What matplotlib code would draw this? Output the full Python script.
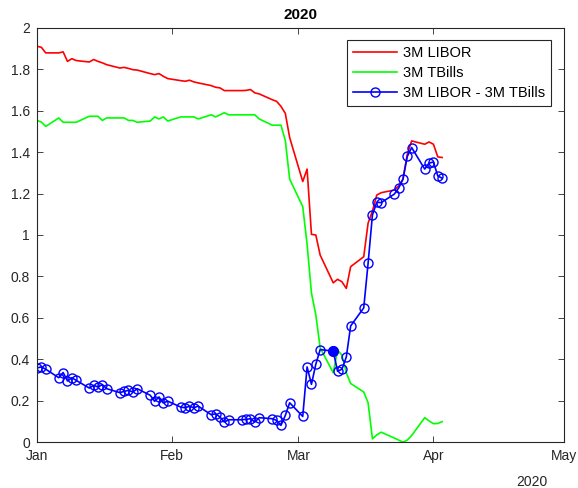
import numpy as np
import pandas as pd
import matplotlib
matplotlib.use('Agg')
import matplotlib.pyplot as plt

plt.rcParams['font.family'] = ['Liberation Sans', 'DejaVu Sans']

# business days, 1 Jan - 3 Apr 2020
dates = pd.bdate_range('2020-01-01', '2020-04-03')

libor = [1.911, 1.906, 1.879, 1.879, 1.884, 1.838, 1.851, 1.842, 1.835, 1.847,
         1.838, 1.831, 1.822, 1.806, 1.809, 1.804, 1.798, 1.796, 1.779, 1.774,
         1.779, 1.766, 1.755,
         1.745, 1.742, 1.747, 1.739, 1.734, 1.721, 1.713, 1.710, 1.697, 1.697,
         1.697, 1.698, 1.702, 1.686, 1.681, 1.653, 1.645, 1.621, 1.587, 1.470,
         1.258, 1.318, 1.003, 1.000, 0.903, 0.769, 0.786, 0.774, 0.742, 0.847,
         0.895, 1.057, 1.115, 1.193, 1.204, 1.217, 1.236, 1.269, 1.390, 1.454,
         1.438, 1.449,
         1.438, 1.377, 1.374]

tbills = [1.553, 1.545, 1.524, 1.565, 1.544, 1.544, 1.544, 1.544, 1.573, 1.573,
          1.573, 1.553, 1.565, 1.565, 1.565, 1.553, 1.553, 1.544, 1.550, 1.570,
          1.560, 1.570, 1.550,
          1.570, 1.570, 1.570, 1.570, 1.560, 1.580, 1.570, 1.580, 1.590, 1.580,
          1.580, 1.580, 1.580, 1.580, 1.560, 1.530, 1.530, 1.530, 1.456, 1.270,
          1.137, 0.955, 0.720, 0.615, 0.455, 0.335, 0.444, 0.420, 0.335, 0.283,
          0.242, 0.190, 0.016, 0.035, 0.048, 0.020, 0.010, 0.000, 0.010, 0.032,
          0.118, 0.102,
          0.089, 0.090, 0.099]

spread = [0.358, 0.363, 0.352, 0.311, 0.336, 0.295, 0.311, 0.298, 0.261, 0.274,
          0.266, 0.278, 0.258, 0.239, 0.245, 0.250, 0.242, 0.258, 0.226, 0.197,
          0.218, 0.189, 0.198,
          0.169, 0.166, 0.173, 0.166, 0.174, 0.132, 0.137, 0.121, 0.097, 0.108,
          0.108, 0.110, 0.113, 0.097, 0.118, 0.113, 0.105, 0.081, 0.129, 0.190,
          0.124, 0.363, 0.279, 0.376, 0.447, 0.439, 0.342, 0.352, 0.411, 0.561,
          0.648, 0.863, 1.097, 1.158, 1.156, 1.197, 1.226, 1.269, 1.379, 1.422,
          1.318, 1.347,
          1.352, 1.285, 1.274]

# highlighted day
hl_date = pd.Timestamp('2020-03-09')
hl_val = 0.439

month_ticks = pd.date_range('2020-01-01', '2020-05-01', freq='MS')
month_labels = ['Jan', 'Feb', 'Mar', 'Apr', 'May']

gray = (0.15, 0.15, 0.15)

fig = plt.figure(figsize=(5.78, 4.88), dpi=100)
ax = fig.add_axes([0.064, 0.094, 0.912, 0.849])

ax.plot(dates, libor, color='r', lw=1.2, label='3M LIBOR')
ax.plot(dates, tbills, color=(0, 1, 0), lw=1.2, label='3M TBills')
ax.plot(dates, spread, color='b', lw=1.2, marker='o', ms=6.5, mfc='none',
        mew=1.0, label='3M LIBOR - 3M TBills')
ax.plot([hl_date], [hl_val], 'o', color='b', ms=7)

ax.set_xlim(month_ticks[0], month_ticks[-1])
ax.set_ylim(0, 2)
ax.set_xticks(month_ticks)
ax.set_xticklabels(month_labels)
ax.set_yticks(np.arange(0, 2.01, 0.2))
ax.set_yticklabels(['0', '0.2', '0.4', '0.6', '0.8', '1', '1.2', '1.4', '1.6', '1.8', '2'])

ax.tick_params(direction='in', length=4, width=0.6, colors=gray,
               labelsize=10, top=True, right=True, pad=5)
for s in ax.spines.values():
    s.set_color(gray)
    s.set_linewidth(0.8)

ax.set_title('2020', fontsize=11, fontweight='bold', pad=6)
fig.text(532 / 578, 1 - 482 / 488, '2020', ha='center', va='center',
         fontsize=10, color=gray)

leg = ax.legend(loc='upper right', bbox_to_anchor=(551 / 578, 1 - 40 / 488),
                bbox_transform=fig.transFigure, fontsize=10.5, handlelength=3.05,
                fancybox=False, framealpha=1, borderpad=0.4, labelspacing=0.42,
                handletextpad=0.4, borderaxespad=0)
leg.get_frame().set_edgecolor(gray)
leg.get_frame().set_linewidth(0.8)

fig.savefig('out.png', dpi=100)
